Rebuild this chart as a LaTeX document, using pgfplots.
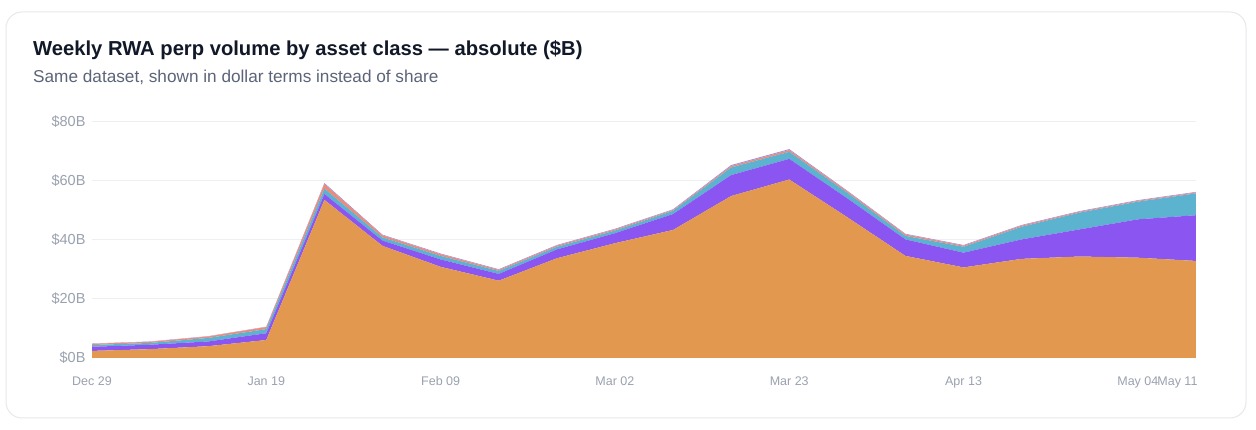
\documentclass[border=0pt]{standalone}
\usepackage{pgfplots}
\pgfplotsset{compat=1.18}
\usepackage{pgfplotstable}
\usepackage{fontspec}
\setmainfont{Liberation Sans}
\definecolor{cOrange}{HTML}{E2994F}
\definecolor{cPurple}{HTML}{8B55F2}
\definecolor{cTeal}{HTML}{5CB3CF}
\definecolor{cSalmon}{HTML}{F08A78}
\definecolor{cBlue}{HTML}{8C93F5}
\definecolor{cTitle}{HTML}{111827}
\definecolor{cSub}{HTML}{5B6478}
\definecolor{cTick}{HTML}{9AA1AF}
\definecolor{cGrid}{HTML}{EEEFF2}
\definecolor{cCard}{HTML}{E6E8EC}
\pgfplotstableread{
x or pu te sa bl
0 2.4 1.4 0.6 0.4 0.1
1 3.0 1.5 0.6 0.4 0.1
2 4.0 1.6 1.2 0.5 0.1
3 6.1 2.3 1.4 0.7 0.1
4 53.6 2.0 1.8 1.6 0.3
5 38.0 1.8 1.1 0.7 0.2
6 30.9 2.5 1.2 0.6 0.2
7 26.2 2.3 1.0 0.4 0.2
8 33.8 3.0 0.9 0.4 0.2
9 38.9 3.4 0.9 0.4 0.2
10 43.4 5.4 1.1 0.3 0.2
11 54.9 7.1 2.6 0.5 0.3
12 60.5 7.0 2.4 0.6 0.3
13 47.7 6.4 1.9 0.5 0.2
14 34.6 5.6 1.2 0.5 0.2
15 30.7 5.0 2.0 0.4 0.2
16 33.6 6.6 4.3 0.4 0.2
17 34.4 9.2 5.7 0.3 0.2
18 34.0 13.0 6.0 0.3 0.2
19 32.9 15.5 7.4 0.3 0.2
}\datatable
\begin{document}
\begin{tikzpicture}[x=1pt,y=1pt]
\path[fill=white] (0,0) rectangle (1256,430);
\draw[cCard, line width=1pt, rounded corners=16pt] (6,12) rectangle (1246,418);
\node[anchor=base west, inner sep=0pt, font=\fontsize{20.2}{24}\selectfont\bfseries, text=cTitle] at (33,374) {Weekly RWA perp volume by asset class — absolute (\$B)};
\node[anchor=base west, inner sep=0pt, font=\fontsize{17.2}{20}\selectfont, text=cSub] at (33,347) {Same dataset, shown in dollar terms instead of share};
\begin{axis}[
  at={(92pt,72pt)}, anchor=south west,
  scale only axis, width=1104pt, height=236pt,
  xmin=0, xmax=19, ymin=0, ymax=80,
  stack plots=y,
  axis line style={draw=none},
  major tick length=0pt,
  ymajorgrids, grid style={cGrid, line width=1pt},
  ytick={0,20,40,60,80},
  yticklabels={\$0B,\$20B,\$40B,\$60B,\$80B},
  yticklabel style={text=cTick, font=\fontsize{14.5}{17}\selectfont, xshift=-3pt},
  xtick={0,3,6,9,12,15,18},
  xticklabels={Dec 29,Jan 19,Feb 09,Mar 02,Mar 23,Apr 13,May 04},
  xticklabel style={text=cTick, font=\fontsize{12.5}{15}\selectfont, yshift=-15pt},
  extra x ticks={19},
  extra x tick labels={May 11},
  extra x tick style={grid=none, xticklabel style={anchor=north east, xshift=5pt}},
  clip=false,
]
\addplot[fill=cOrange, draw=none] table[x=x, y=or] {\datatable} \closedcycle;
\addplot[fill=cPurple, draw=none] table[x=x, y=pu] {\datatable} \closedcycle;
\addplot[fill=cTeal, draw=none] table[x=x, y=te] {\datatable} \closedcycle;
\addplot[fill=cSalmon, draw=none] table[x=x, y=sa] {\datatable} \closedcycle;
\addplot[fill=cBlue, draw=none] table[x=x, y=bl] {\datatable} \closedcycle;
\end{axis}
\end{tikzpicture}
\end{document}
